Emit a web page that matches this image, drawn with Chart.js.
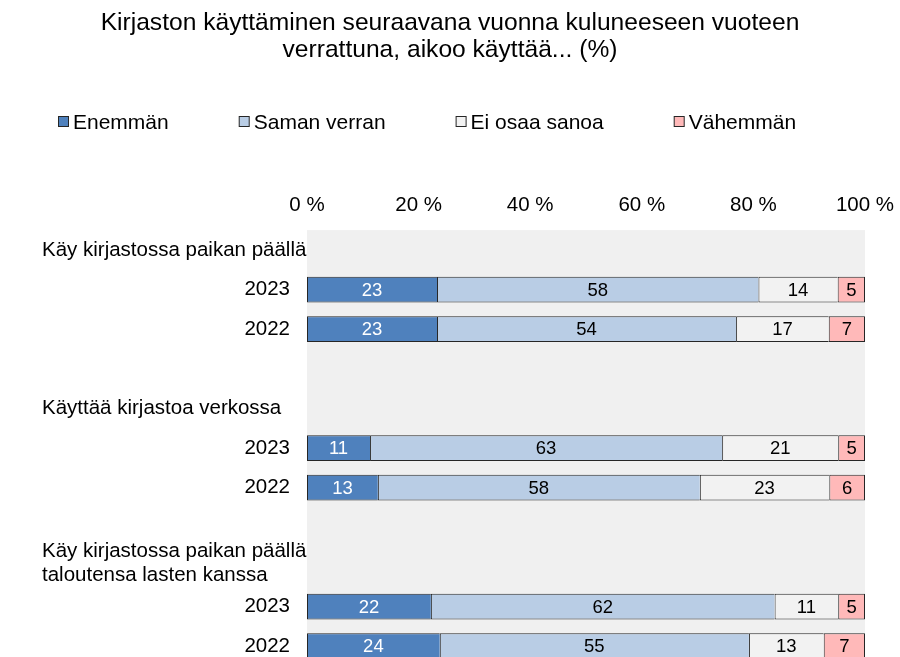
<!DOCTYPE html>
<html>
<head>
<meta charset="utf-8">
<script src="https://cdn.jsdelivr.net/npm/chart.js@4.4.1/dist/chart.umd.min.js"></script>
<style>
  html, body { margin: 0; padding: 0; background: #ffffff; overflow: hidden; }
  #wrap { position: relative; width: 900px; height: 666px; }
</style>
</head>
<body>
<div id="wrap"><canvas id="chart"></canvas></div>
<script>
// Rivit: otsikkorivit, vuosirivit ja tyhjät välirivit
const rivit = [
    'Käy kirjastossa paikan päällä', '2023', '2022', '',
    'Käyttää kirjastoa verkossa', '2023', '2022', '',
    ['Käy kirjastossa paikan päällä', 'taloutensa lasten kanssa'], '2023', '2022'
];
const otsikkoRivit = [0, 4, 8];

const sarjat = ['Enemmän', 'Saman verran', 'Ei osaa sanoa', 'Vähemmän'];
const enemman     = [null, 23.3, 23.3, null, null, 11.3, 12.7, null, null, 22.2, 23.8];
const samanVerran = [null, 57.6, 53.6, null, null, 63.1, 57.7, null, null, 61.6, 55.4];
const eiOsaa      = [null, 14.2, 16.6, null, null, 20.8, 23.2, null, null, 11.4, 13.4];
const vahemman    = [null,  4.9,  6.5, null, null,  4.8,  6.4, null, null,  4.8,  7.4];

const xTicks = [0, 20, 40, 60, 80, 100];
const otsikko = ['Kirjaston käyttäminen seuraavana vuonna kuluneeseen vuoteen', 'verrattuna, aikoo käyttää... (%)'];

const varit = ['#4f81bd', '#b9cde5', '#f2f2f2', '#ffb9b9'];
const reuna = '#262626';
const FONTTI = '"Liberation Sans", Arial, sans-serif';

// Harmaa tausta piirtoalueelle
const taustaPlugin = {
    id: 'tausta',
    beforeDatasetsDraw(chart) {
        const { ctx, chartArea: a } = chart;
        ctx.save();
        ctx.fillStyle = '#f0f0f0';
        ctx.fillRect(a.left, a.top, a.right - a.left, a.bottom - a.top);
        ctx.restore();
    }
};

// Otsikko, selite, rivien nimet ja arvot
const tekstitPlugin = {
    id: 'tekstit',
    afterDraw(chart) {
        const { ctx } = chart;
        const y = chart.scales.y;
        ctx.save();

        // otsikko
        ctx.fillStyle = '#000';
        ctx.font = '24.6px ' + FONTTI;
        ctx.textAlign = 'center';
        ctx.textBaseline = 'middle';
        ctx.fillText(otsikko[0], 450, 23);
        ctx.fillText(otsikko[1], 450, 50);

        // selite
        ctx.font = '21px ' + FONTTI;
        ctx.textAlign = 'left';
        let lx = 58;
        sarjat.forEach((nimi, i) => {
            ctx.fillStyle = varit[i];
            ctx.fillRect(lx + 0.5, 116.5, 10, 10);
            ctx.strokeStyle = reuna;
            ctx.lineWidth = 1;
            ctx.strokeRect(lx + 0.5, 116.5, 10, 10);
            ctx.fillStyle = '#000';
            ctx.fillText(nimi, lx + 15, 123);
            lx += 15 + ctx.measureText(nimi).width + 70;
        });

        // rivien nimet
        ctx.font = '20.5px ' + FONTTI;
        rivit.forEach((r, i) => {
            const py = y.getPixelForValue(i);
            if (otsikkoRivit.includes(i)) {
                ctx.textAlign = 'left';
                const rivi = Array.isArray(r) ? r : [r];
                const lh = 24;
                const alku = py - (rivi.length - 1) * lh / 2 - (rivi.length > 1 ? 4 : 0);
                rivi.forEach((t, j) => ctx.fillText(t, 42, alku + j * lh));
            } else if (r) {
                ctx.textAlign = 'right';
                ctx.fillText(r, 290, py);
            }
        });

        // arvot palkkien sisään
        ctx.font = '18.5px ' + FONTTI;
        ctx.textAlign = 'center';
        chart.data.datasets.forEach((ds, di) => {
            const meta = chart.getDatasetMeta(di);
            meta.data.forEach((bar, i) => {
                const v = ds.data[i];
                if (v === null) return;
                const p = bar.getProps(['x', 'base', 'y'], true);
                ctx.fillStyle = di === 0 ? '#ffffff' : '#000000';
                ctx.fillText(String(Math.round(v)), (p.x + p.base) / 2, p.y + 1);
            });
        });
        ctx.restore();
    }
};

const sarjaData = [enemman, samanVerran, eiOsaa, vahemman];

new Chart(document.getElementById('chart'), {
    type: 'bar',
    data: {
        labels: rivit,
        datasets: sarjat.map((nimi, i) => ({
            label: nimi,
            data: sarjaData[i],
            backgroundColor: varit[i],
            borderColor: reuna,
            borderWidth: { top: 1, bottom: 1, left: 1, right: i === sarjat.length - 1 ? 1 : 0 },
            borderSkipped: false,
            barPercentage: 0.65,
            categoryPercentage: 1
        }))
    },
    options: {
        indexAxis: 'y',
        responsive: true,
        maintainAspectRatio: false,
        animation: false,
        layout: { padding: { left: 307, right: 35, top: 181.5, bottom: 0 } },
        scales: {
            x: {
                position: 'top',
                stacked: true,
                min: 0,
                max: 100,
                afterBuildTicks: (s) => { s.ticks = xTicks.map(v => ({ value: v })); },
                afterFit: (s) => { s.paddingLeft = 0; s.paddingRight = 0; },
                ticks: {
                    padding: 12,
                    color: '#000',
                    font: { family: FONTTI, size: 20.5 },
                    callback: (v) => v + ' %'
                },
                grid: { display: false, drawTicks: false },
                border: { display: false }
            },
            y: {
                stacked: true,
                display: false
            }
        },
        plugins: {
            legend: { display: false },
            title: { display: false },
            tooltip: { enabled: false }
        }
    },
    plugins: [taustaPlugin, tekstitPlugin]
});
</script>
</body>
</html>
